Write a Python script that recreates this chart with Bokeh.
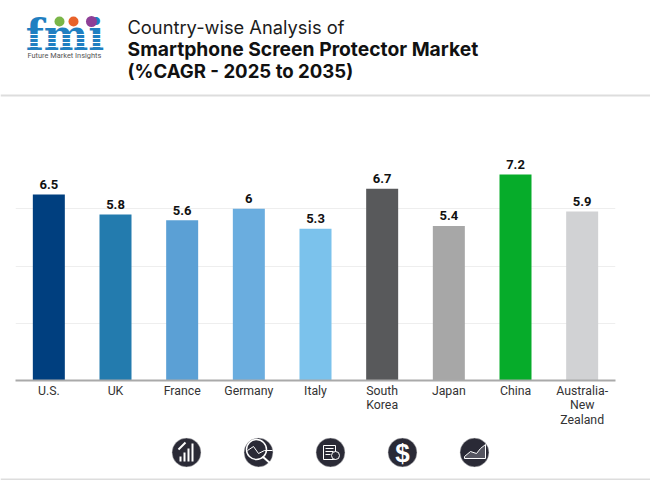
from bokeh.core.properties import value
from bokeh.embed import file_html
from bokeh.layouts import column
from bokeh.models import ColumnDataSource, FixedTicker, Range1d
from bokeh.plotting import figure
from bokeh.resources import INLINE

categories = ["U.S.", "UK", "France", "Germany", "Italy", "South\nKorea", "Japan", "China",
              "Australia-\nNew\nZealand"]
cagr_values = [6.5, 5.8, 5.6, 6, 5.3, 6.7, 5.4, 7.2, 5.9]
value_labels = ["6.5", "5.8", "5.6", "6", "5.3", "6.7", "5.4", "7.2", "5.9"]
bar_colors = ["#003f7f", "#237bae", "#5ba0d5", "#6aaddf", "#7bc2ec", "#58595b", "#a7a7a7",
              "#06ac2a", "#d1d2d4"]
title_lines = ["Country-wise Analysis of", "Smartphone Screen Protector Market",
               "(%CAGR - 2025 to 2035)"]
y_ticks = [0, 2, 4, 6, 8]


def canvas(top, bottom):
    f = figure(width=650, height=bottom - top, x_range=Range1d(0, 650), y_range=Range1d(bottom, top),
               output_backend="svg", toolbar_location=None, min_border=0,
               x_axis_type=None, y_axis_type=None, outline_line_color=None)
    f.grid.visible = False
    f.frame_align = False
    return f


# ---------- header ----------
head = canvas(0, 140)
head.text([127], [26], text=[title_lines[0]], text_font=value("Inter"), text_font_size="18.3px",
          text_color="#1c1c1c", text_baseline="alphabetic")
head.text([127], [48], text=[title_lines[1]], text_font=value("Inter"), text_font_style="bold",
          text_font_size="19.3px", text_color="#111111", text_baseline="alphabetic")
head.text([127], [70], text=[title_lines[2]], text_font=value("Inter"), text_font_style="bold",
          text_font_size="18.6px", text_color="#111111", text_baseline="alphabetic")
head.quad(left=[0], right=[650], top=[94], bottom=[96], fill_color="#dddddd", line_color=None)
# logo
head.text([64.5], [35], text=["fmi"], text_font=value("DejaVu Serif"), text_font_style="bold",
          text_font_size="42px", text_color="#1f7fc1", text_align="center", text_baseline="alphabetic")
head.multi_line([[26, 103]] * 4, [[y, y] for y in (34, 38, 42, 46)], line_color="white", line_width=1)
head.scatter([59, 73, 91], [21, 21, 21], size=[10, 10, 11],
             fill_color=["#7ab648", "#e8622a", "#8e3f97"], line_color=None)
head.text([27], [55], text=["Future Market Insights"], text_font=value("Roboto"), text_font_size="7.4px",
          text_color="#555555", text_baseline="alphabetic")

# ---------- chart ----------
source = ColumnDataSource(dict(cat=categories, val=cagr_values, lab=value_labels, col=bar_colors))
p = figure(width=650, height=296, x_range=categories, y_range=Range1d(0, 8),
           output_backend="svg", toolbar_location=None, outline_line_color=None,
           min_border_left=15, min_border_right=35, min_border_top=11, min_border_bottom=56)
p.frame_align = False
p.vbar(x="cat", top="val", width=0.48, fill_color="col", line_color=None, source=source)
p.text(x="cat", y="val", text="lab", source=source, y_offset=-10, text_align="center",
       text_baseline="alphabetic", text_font=value("Roboto"), text_font_style="bold",
       text_font_size="13px", text_color="#111111")
p.xgrid.visible = False
p.ygrid.ticker = FixedTicker(ticks=y_ticks)
p.ygrid.grid_line_color = "#eeeeee"
p.yaxis.visible = False
ax = p.xaxis[0]
ax.axis_line_color = "#aaaaaa"
ax.axis_line_width = 2
ax.major_tick_line_color = None
ax.minor_tick_line_color = None
ax.major_label_text_font = "Roboto"
ax.major_label_text_font_size = "12.3px"
ax.major_label_text_color = "#333333"
ax.major_label_text_line_height = 1.05
ax.major_label_standoff = -3
ax.major_label_orientation = "horizontal"

# ---------- footer ----------
foot = canvas(436, 480)
cx = [186, 258, 330, 402, 474]
foot.scatter(cx, [452] * 5, size=29, fill_color="#2a2a36", line_color="#dddddd", line_width=0.5)
# bars icon
foot.vbar(x=[180, 184, 188, 192], top=[461] * 4, bottom=[456, 452, 448, 443], width=2,
          fill_color="white", line_color=None)
foot.line([178, 185], [449, 442], line_color="white", line_width=2)
# magnifier icon
foot.scatter([256], [449], size=20, fill_color=None, line_color="white", line_width=1.5)
foot.line([247, 253, 258, 264, 272], [450, 446, 453, 450, 450], line_color="white", line_width=1)
foot.line([262, 270], [456, 463], line_color="white", line_width=2)
# report icon
foot.quad(left=[323], right=[335], top=[445], bottom=[459], fill_color=None, line_color="white")
foot.multi_line([[325, 333], [325, 333], [325, 330]], [[448, 448], [451, 451], [454, 454]],
                line_color="white", line_width=1)
foot.scatter([335], [455], size=8, fill_color="#2a2a36", line_color="white")
# dollar icon
foot.text([402], [452], text=["$"], text_font=value("Liberation Sans"), text_font_style="bold",
          text_font_size="26px", text_color="white", text_align="center", text_baseline="alphabetic")
# area icon
foot.patch([464, 470, 476, 480, 485, 485, 464], [456, 451, 453, 448, 444, 458, 458],
           fill_color="#555560", line_color="white", line_width=1)
foot.quad(left=[0], right=[650], top=[478], bottom=[480], fill_color="#dddddd", line_color=None)

page = column(head, p, foot, spacing=0)
open("out.html", "w").write(file_html(page, INLINE))
